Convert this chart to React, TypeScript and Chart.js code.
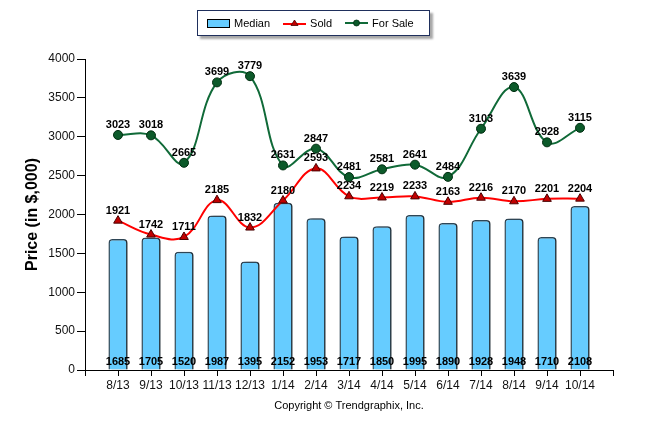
import { useEffect, useRef } from "react"
import Chart from "chart.js/auto"

const months = ["8/13", "9/13", "10/13", "11/13", "12/13", "1/14", "2/14", "3/14", "4/14", "5/14", "6/14", "7/14", "8/14", "9/14", "10/14"]
const median = [1685, 1705, 1520, 1987, 1395, 2152, 1953, 1717, 1850, 1995, 1890, 1928, 1948, 1710, 2108]
const sold = [1921, 1742, 1711, 2185, 1832, 2180, 2593, 2234, 2219, 2233, 2163, 2216, 2170, 2201, 2204]
const forSale = [3023, 3018, 2665, 3699, 3779, 2631, 2847, 2481, 2581, 2641, 2484, 3103, 3639, 2928, 3115]
const yMin = 0
const yMax = 4000
const yStep = 500

const FONT = "'Liberation Sans', Arial, sans-serif"

// the original axis leaves one empty slot at each end
const labels = ["", ...months, ""]
const pad = (values: number[]) => [null, ...values, null]

const valueLabels = {
  id: "valueLabels",
  afterDatasetsDraw(chart: any) {
    const ctx = chart.ctx
    const zeroY = chart.scales.y.getPixelForValue(0)
    ctx.save()
    ctx.font = `bold 11px ${FONT}`
    ctx.fillStyle = "#000"
    ctx.textAlign = "center"
    ctx.textBaseline = "middle"
    chart.data.datasets.forEach((ds: any, i: number) => {
      const meta = chart.getDatasetMeta(i)
      meta.data.forEach((el: any, j: number) => {
        const v = ds.data[j]
        if (v == null) return
        const y = ds.type === "line" ? el.y - 10 : zeroY - 8
        ctx.fillText(String(v), el.x, y)
      })
    })
    ctx.restore()
  },
}

const barShadow = {
  id: "barShadow",
  beforeDatasetDraw(chart: any, args: any) {
    if (chart.data.datasets[args.index].type !== "bar") return
    const ctx = chart.ctx
    ctx.save()
    ctx.shadowColor = "rgba(0,0,0,0.35)"
    ctx.shadowOffsetX = 3
    ctx.shadowOffsetY = 0
    ctx.shadowBlur = 0
  },
  afterDatasetDraw(chart: any, args: any) {
    if (chart.data.datasets[args.index].type !== "bar") return
    chart.ctx.restore()
  },
}

export default function App() {
  const canvasRef = useRef<HTMLCanvasElement>(null)

  useEffect(() => {
    document.body.style.margin = "0"
    if (!canvasRef.current) return
    const ctx = canvasRef.current.getContext("2d")
    if (!ctx) return

    const chart = new Chart(ctx, {
      type: "bar",
      data: {
        labels,
        datasets: [
          {
            type: "line",
            label: "Sold",
            data: pad(sold),
            borderColor: "#ff0000",
            borderWidth: 2,
            tension: 0.4,
            pointStyle: "triangle",
            pointRadius: 5,
            pointBackgroundColor: "#c00000",
            pointBorderColor: "#4a0000",
            pointBorderWidth: 1,
            order: 1,
          },
          {
            type: "line",
            label: "For Sale",
            data: pad(forSale),
            borderColor: "#106a38",
            borderWidth: 2,
            tension: 0.4,
            pointStyle: "circle",
            pointRadius: 4.5,
            pointBackgroundColor: "#0c5a2a",
            pointBorderColor: "#002d10",
            pointBorderWidth: 1,
            order: 2,
          },
          {
            type: "bar",
            label: "Median",
            data: pad(median),
            backgroundColor: "#66ccff",
            borderColor: "#2e4656",
            borderWidth: 1.5,
            borderRadius: { topLeft: 4, topRight: 4, bottomLeft: 0, bottomRight: 0 },
            borderSkipped: "bottom",
            barPercentage: 0.58,
            categoryPercentage: 1,
            order: 3,
          },
        ] as any,
      },
      options: {
        animation: false,
        responsive: false,
        layout: { padding: { top: 59, right: 57, bottom: 0, left: 0 } },
        plugins: {
          legend: { display: false },
          tooltip: { enabled: false },
        },
        scales: {
          x: {
            type: "category",
            offset: false,
            grid: { offset: false, drawOnChartArea: false, drawTicks: true, tickLength: 6, color: "#000" },
            border: { color: "#000", width: 1 },
            ticks: { color: "#111", font: { family: FONT, size: 12 }, padding: 2, autoSkip: false, maxRotation: 0 },
            title: {
              display: true,
              text: "Copyright © Trendgraphix, Inc.",
              color: "#000",
              font: { family: FONT, size: 11 },
              padding: { top: 0, bottom: 9 },
            },
            afterFit(scale: any) {
              scale.height = 52
            },
          },
          y: {
            min: yMin,
            max: yMax,
            grid: { drawOnChartArea: false, drawTicks: true, tickLength: 8, color: "#000" },
            border: { color: "#000", width: 1 },
            ticks: {
              stepSize: yStep,
              color: "#111",
              font: { family: FONT, size: 12 },
              padding: 2,
              callback: (v: any) => String(v),
            },
            title: {
              display: true,
              text: "Price (in $,000)",
              color: "#000",
              font: { family: FONT, size: 16, weight: "bold" },
              padding: { top: 23, bottom: 0 },
            },
            afterFit(scale: any) {
              scale.width = 85
            },
          },
        },
      },
      plugins: [barShadow, valueLabels],
    })

    return () => {
      chart.destroy()
    }
  }, [])

  const item = { display: "flex", alignItems: "center", gap: 4 } as const

  return (
    <div style={{ position: "relative", width: 670, height: 422, background: "#fff", fontFamily: FONT }}>
      <canvas ref={canvasRef} width={670} height={422} style={{ display: "block" }}></canvas>
      <div
        style={{
          position: "absolute",
          left: 197,
          top: 10,
          width: 222,
          height: 24,
          border: "1.5px solid #1f2f5c",
          background: "#fff",
          boxShadow: "3px 3px 2px #a8a8a8",
          display: "flex",
          alignItems: "center",
          gap: 13,
          paddingLeft: 9,
          boxSizing: "content-box",
          fontSize: 11,
          color: "#000",
          whiteSpace: "nowrap",
        }}
      >
        <div style={item}>
          <span style={{ display: "inline-block", width: 21, height: 7, background: "#66ccff", border: "1.5px solid #000" }}></span>
          <span>Median</span>
        </div>
        <div style={item}>
          <svg width="23" height="10" viewBox="0 0 23 10">
            <line x1="0" y1="6" x2="23" y2="6" stroke="#ff0000" strokeWidth="2" />
            <polygon points="11.5,2 15,7.5 8,7.5" fill="#c00000" stroke="#4a0000" strokeWidth="0.8" />
          </svg>
          <span>Sold</span>
        </div>
        <div style={item}>
          <svg width="23" height="10" viewBox="0 0 23 10">
            <line x1="0" y1="5" x2="23" y2="5" stroke="#106a38" strokeWidth="2" />
            <circle cx="11.5" cy="5" r="3" fill="#0c5a2a" stroke="#002d10" strokeWidth="0.8" />
          </svg>
          <span>For Sale</span>
        </div>
      </div>
    </div>
  )
}
